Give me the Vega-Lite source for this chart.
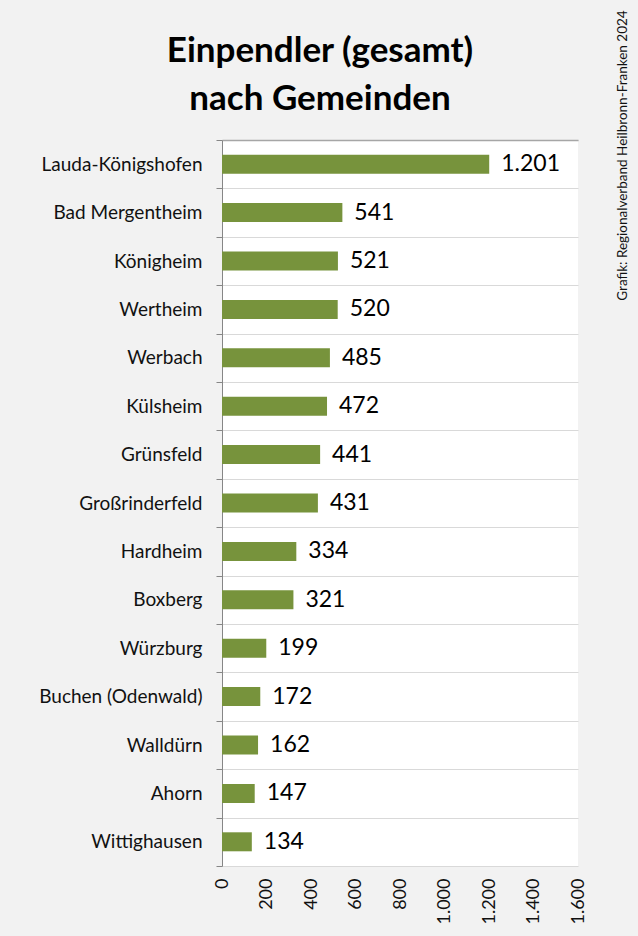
{
  "$schema": "https://vega.github.io/schema/vega-lite/v6.json",
  "width": 356,
  "height": 726,
  "autosize": {"type": "none"},
  "padding": {"left": 222, "top": 140, "right": 60, "bottom": 70},
  "background": "#f2f2f2",
  "title": {
    "text": ["Einpendler (gesamt)", "nach Gemeinden"],
    "font": "Lato",
    "fontSize": 35,
    "fontWeight": "bold",
    "color": "#000000",
    "anchor": "middle",
    "dx": -80,
    "lineHeight": 48,
    "offset": -107
  },
  "data": {
    "values": [
      {"gemeinde": "Lauda-Königshofen", "wert": 1201},
      {"gemeinde": "Bad Mergentheim", "wert": 541},
      {"gemeinde": "Königheim", "wert": 521},
      {"gemeinde": "Wertheim", "wert": 520},
      {"gemeinde": "Werbach", "wert": 485},
      {"gemeinde": "Külsheim", "wert": 472},
      {"gemeinde": "Grünsfeld", "wert": 441},
      {"gemeinde": "Großrinderfeld", "wert": 431},
      {"gemeinde": "Hardheim", "wert": 334},
      {"gemeinde": "Boxberg", "wert": 321},
      {"gemeinde": "Würzburg", "wert": 199},
      {"gemeinde": "Buchen (Odenwald)", "wert": 172},
      {"gemeinde": "Walldürn", "wert": 162},
      {"gemeinde": "Ahorn", "wert": 147},
      {"gemeinde": "Wittighausen", "wert": 134}
    ]
  },
  "config": {
    "locale": {"number": {"decimal": ",", "thousands": ".", "grouping": [3], "currency": ["", " €"]}},
    "view": {"stroke": null, "fill": "#ffffff"},
    "font": "Lato"
  },
  "layer": [
    {
      "mark": {"type": "bar", "color": "#77933C", "size": 19},
      "encoding": {
        "y": {
          "field": "gemeinde", "type": "nominal", "sort": null,
          "scale": {"paddingInner": 0, "paddingOuter": 0},
          "axis": {
            "orient": "left", "title": null, "tickBand": "extent",
            "grid": true, "gridColor": "#d9d9d9", "gridWidth": 1,
            "domainColor": "#868686", "tickColor": "#868686", "tickSize": 6,
            "labelFont": "Lato", "labelFontSize": 19, "labelFontWeight": "normal", "labelColor": "#111111", "labelPadding": 14
          }
        },
        "x": {
          "field": "wert", "type": "quantitative",
          "scale": {"domain": [0, 1600], "nice": false},
          "axis": {
            "orient": "bottom", "title": null, "domain": false, "ticks": false, "grid": false,
            "values": [0, 200, 400, 600, 800, 1000, 1200, 1400, 1600], "format": ",d",
            "labelAngle": -90, "labelFont": "Lato", "labelFontSize": 18, "labelColor": "#111111", "labelPadding": 12
          }
        }
      }
    },
    {
      "mark": {"type": "text", "align": "left", "baseline": "middle", "dx": 12, "fontSize": 23, "font": "Lato", "color": "#000000"},
      "encoding": {
        "y": {
          "field": "gemeinde", "type": "nominal", "sort": null,
          "axis": {
            "orient": "right", "labels": false, "ticks": false, "domain": false, "grid": false,
            "title": "Grafik: Regionalverband Heilbronn-Franken 2024",
            "titleAngle": 270, "titleX": 44, "titleY": 15, "titleAlign": "center", "titleBaseline": "middle",
            "titleFont": "Lato", "titleFontSize": 13.5, "titleFontWeight": "normal", "titleColor": "#111111"
          }
        },
        "x": {
          "field": "wert", "type": "quantitative",
          "axis": {
            "orient": "top", "title": null, "labels": false, "ticks": false, "grid": false,
            "domain": true, "domainColor": "#a6a6a6", "domainWidth": 1.5
          }
        },
        "text": {"field": "wert", "type": "quantitative", "format": ",d"}
      }
    }
  ],
  "resolve": {"axis": {"x": "independent", "y": "independent"}}
}
